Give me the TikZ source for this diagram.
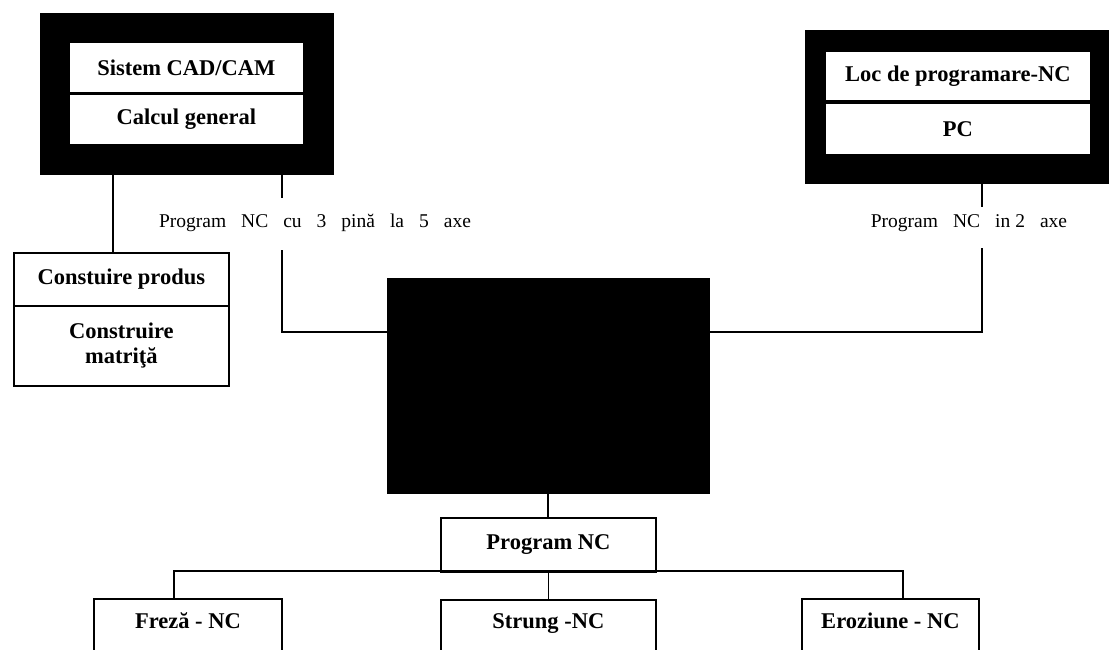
\documentclass[tikz,border=0pt]{standalone}
\usepackage{fontspec}
\setmainfont{Liberation Serif}
\usetikzlibrary{calc}
\newcommand\lblfont{\fontsize{19.5}{22}\selectfont\spaceskip=15pt\relax}
\begin{document}
\begin{tikzpicture}[x=1pt,y=-1pt,
  boxtext/.style={font=\fontsize{22.5}{25}\selectfont\bfseries},
  frame/.style={fill=black, draw=black, inner sep=0pt, anchor=north west},
  panel/.style={fill=white, draw=black, line width=0.8pt, inner sep=0pt, anchor=north west, boxtext, align=center},
  plainbox/.style={draw=black, line width=1.8pt, fill=white, inner sep=0pt, anchor=north west, boxtext, align=center},
  wire/.style={line width=1.8pt},
  lbl/.style={font=\lblfont, inner sep=0pt, anchor=base}
]
\useasboundingbox (0,0) rectangle (1111,649);
\clip (0,0) rectangle (1111,649);

% CAD/CAM station
\node[frame, minimum width=293pt, minimum height=161pt] (lbox) at (40,13) {};
\node[panel, minimum width=234pt, minimum height=50pt] (lcad) at (69,42) {Sistem CAD/CAM};
\node[panel, minimum width=234pt, minimum height=50pt] (lcalc) at (69,94) {Calcul general};

% NC programming place
\node[frame, minimum width=303pt, minimum height=153pt] (rbox) at (805,30) {};
\node[panel, minimum width=265pt, minimum height=49pt] (rloc) at (825,51) {Loc de programare-NC};
\node[panel, minimum width=265pt, minimum height=51pt] (rpc) at (825,103) {PC};

% design box
\node[plainbox, minimum width=215pt, minimum height=53pt] (cprod) at (13,252) {Constuire produs};
\node[plainbox, minimum width=215pt, minimum height=80pt] (cmat) at (13,305) {Construire\\matriţă};

% central unit
\node[frame, minimum width=322pt, minimum height=215pt] (cbox) at (387,278) {};

% NC program and machines
\node[plainbox, minimum width=215pt, minimum height=54pt] (prog) at (440,517) {Program NC};
\node[plainbox, minimum width=188pt, text height=30pt, text depth=30pt] (freza) at (93,598) {Freză - NC};
\node[plainbox, minimum width=215pt, text height=29pt, text depth=30pt] (strung) at (440,599) {Strung -NC};
\node[plainbox, minimum width=177pt, text height=30pt, text depth=30pt] (eroz) at (801,598) {Eroziune - NC};

% connector labels
\node[lbl] (lab1) at (315,227) {Program NC cu 3 pină la 5 axe};
\node[lbl] (lab2) at (969,227) {Program NC in\hspace{5pt}2 axe};

% wire break points around the labels and drop positions
\coordinate (l1top) at (282,198);
\coordinate (l1bot) at (282,250);
\coordinate (r1top) at (982,207);
\coordinate (r1bot) at (982,248);
\coordinate (ldrop) at (113,0);
\coordinate (busL) at (174,571);
\coordinate (busR) at (903,571);

% connectors
\draw[wire] (lbox.south -| l1top) -- (l1top);
\draw[wire] (l1bot) |- ($(cbox.north west)!0.25!(cbox.south west)$);
\draw[wire] (rbox.south -| r1top) -- (r1top);
\draw[wire] (r1bot) |- ($(cbox.north east)!0.25!(cbox.south east)$);
\draw[wire] (lbox.south -| ldrop) -- (cprod.north -| ldrop);
\draw[wire] (cbox.south) -- (cbox.south |- prog.north);
\draw[wire] (prog.south) -- (strung.north);
\draw[wire] (freza.north -| busL) |- (busR) -- (eroz.north -| busR);
\end{tikzpicture}
\end{document}
